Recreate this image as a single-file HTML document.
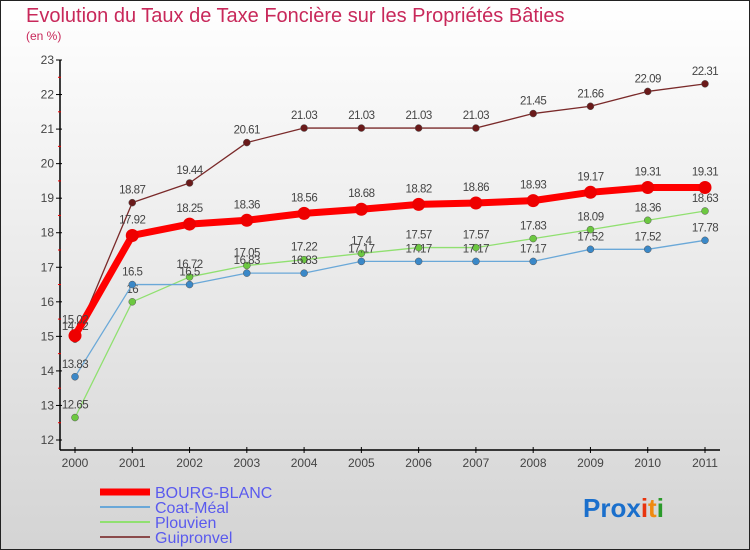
<!DOCTYPE html>
<html><head><meta charset="utf-8"><style>
body{margin:0;}
#wrap{width:750px;height:550px;position:relative;overflow:hidden;font-family:"Liberation Sans",sans-serif;}
</style></head><body>
<div id="wrap">
<svg id="svg" width="750" height="550" xmlns="http://www.w3.org/2000/svg">
<defs><linearGradient id="bg" x1="0" y1="0" x2="0" y2="1"><stop offset="0" stop-color="#ffffff"/><stop offset="1" stop-color="#d4d4d4"/></linearGradient></defs>
<rect x="0.5" y="0.5" width="749" height="549" fill="url(#bg)" stroke="#222"/>
<text x="26" y="22" font-size="20" fill="#c8285a">Evolution du Taux de Taxe Foncière sur les Propriétés Bâties</text>
<text x="26" y="40" font-size="12" fill="#c8285a">(en %)</text>
<g id="axes"></g><g id="series"></g><g id="legend"></g>
<text x="583" y="517" font-size="26" font-weight="bold"><tspan fill="#1a6fcc">Pro</tspan><tspan fill="#1a6fcc">x</tspan><tspan fill="#e8340e">i</tspan><tspan fill="#f08a10">t</tspan><tspan fill="#2a9a2a">i</tspan></text>
</svg>
</div>
<script>
const years=[2000,2001,2002,2003,2004,2005,2006,2007,2008,2009,2010,2011];
const yTicks=[12,13,14,15,16,17,18,19,20,21,22,23];
const bourgBlanc=[15.02,17.92,18.25,18.36,18.56,18.68,18.82,18.86,18.93,19.17,19.31,19.31];
const coatMeal=[13.83,16.5,16.5,16.83,16.83,17.17,17.17,17.17,17.17,17.52,17.52,17.78];
const plouvien=[12.65,16,16.72,17.05,17.22,17.4,17.57,17.57,17.83,18.09,18.36,18.63];
const guipronvel=[14.92,18.87,19.44,20.61,21.03,21.03,21.03,21.03,21.45,21.66,22.09,22.31];
const NS="http://www.w3.org/2000/svg";
const X=i=>75+i*(630/11);
const Y=v=>440-(v-12)*(380/11);
function mk(tag,attrs,parent,txt){const e=document.createElementNS(NS,tag);for(const k in attrs)e.setAttribute(k,attrs[k]);if(txt!==undefined)e.textContent=txt;parent.appendChild(e);return e;}
const ax=document.getElementById('axes');
const yl=mk('line',{x1:60,y1:Y(23),x2:60,y2:450,stroke:'#000','stroke-width':1.5},ax);


const xl=mk('line',{x1:60,y1:450,x2:720,y2:450,stroke:'#000','stroke-width':1.5},ax);


yTicks.forEach(t=>{
  mk('line',{x1:56,y1:Y(t),x2:62,y2:Y(t),stroke:'#000'},ax);
  if(t<23)mk('line',{x1:58,y1:Y(t+0.5),x2:61,y2:Y(t+0.5),stroke:'#e00'},ax);
  const l=mk('text',{x:54,y:Y(t)+4,'font-size':12,'text-anchor':'end',fill:'#444'},ax,String(t));
  
  
});
years.forEach((y,i)=>{
  mk('line',{x1:X(i),y1:447,x2:X(i),y2:453,stroke:'#000'},ax);
  const l=mk('text',{x:X(i),y:467,'font-size':12,'text-anchor':'middle',fill:'#444'},ax,String(y));
  
  
});
const series=[
 {name:'Guipronvel',vals:guipronvel,color:'#7a2a2a',dot:'#6a1a1a',w:1.3,r:3.5},
 {name:'Plouvien',vals:plouvien,color:'#90e070',dot:'#6cc840',w:1.3,r:3.5},
 {name:'Coat-Méal',vals:coatMeal,color:'#6aa8d8',dot:'#3a88c8',w:1.3,r:3.5},
 {name:'BOURG-BLANC',vals:bourgBlanc,color:'#ff0000',dot:'#ee0000',w:7,r:6.5}
];
const sg=document.getElementById('series');
series.forEach(s=>{
  const g=mk('g',{},sg);
  
  
  const pts=s.vals.map((v,i)=>X(i)+','+Y(v)).join(' ');
  mk('polyline',{points:pts,fill:'none',stroke:s.color,'stroke-width':s.w,'stroke-linejoin':'round'},g);
  s.vals.forEach((v,i)=>{
    const c=mk('circle',{cx:X(i),cy:Y(v),r:s.r,fill:s.dot,stroke:s.w>2?'none':'#555','stroke-width':0.5},g);
    
    
    const t=mk('text',{x:X(i),y:Y(v)-(s.w>2?12:9),'font-size':11.5,'text-anchor':'middle',fill:'#444','letter-spacing':'-0.5'},g,String(v));
    
    
  });
});
const lg=document.getElementById('legend');
const leg=[['BOURG-BLANC','#ff0000',7],['Coat-Méal','#6aa8d8',2],['Plouvien','#90e070',2],['Guipronvel','#8a4a4a',2]];
leg.forEach((e,i)=>{
  const y=492+i*15;
  const g=mk('g',{},lg);
  
  
  mk('line',{x1:100,y1:y,x2:150,y2:y,stroke:e[1],'stroke-width':e[2]},g);
  mk('text',{x:155,y:y+6,'font-size':16,fill:'#5a5aee'},g,e[0]);
});
</script>
</body></html>
